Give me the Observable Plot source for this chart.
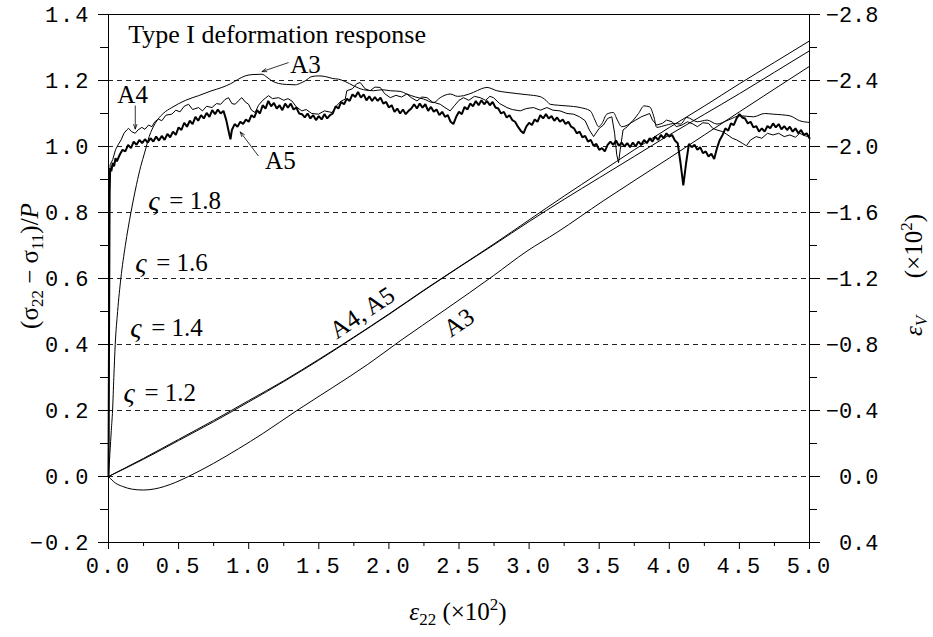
<!DOCTYPE html>
<html><head><meta charset="utf-8">
<script src="https://cdn.jsdelivr.net/npm/d3@7"></script>
<script src="https://cdn.jsdelivr.net/npm/@observablehq/plot@0.6"></script>
<style>
body{margin:0;background:#fff;}
#chart svg{display:block;}
#chart svg g[aria-label$="tick label"] text{letter-spacing:2px;}
</style></head><body><div id="chart"></div>
<script>
// ---- axis ticks ----
const xTicks = [0, 0.5, 1, 1.5, 2, 2.5, 3, 3.5, 4, 4.5, 5];
const xMinorTicks = [0.25, 0.75, 1.25, 1.75, 2.25, 2.75, 3.25, 3.75, 4.25, 4.75];
const leftTicks = [-0.2, 0, 0.2, 0.4, 0.6, 0.8, 1.0, 1.2, 1.4];
const leftMinorTicks = [-0.1, 0.1, 0.3, 0.5, 0.7, 0.9, 1.1, 1.3];
const rightTicks = [0.4, 0, -0.4, -0.8, -1.2, -1.6, -2.0, -2.4, -2.8];   // εV (×10²)
const rightTickLabels = ["0.4", "0.0", "\u22120.4", "\u22120.8", "\u22121.2", "\u22121.6", "\u22122.0", "\u22122.4", "\u22122.8"];
const rightMinorTicks = [0.2, -0.2, -0.6, -1.0, -1.4, -1.8, -2.2, -2.6];
const gridLevels = [0, 0.2, 0.4, 0.6, 0.8, 1.0, 1.2];

// ---- stress ratio (σ22−σ11)/P vs ε22 ----
const stressA3 = [[0,0],[0.01,0.07],[0.02,0.14],[0.029,0.2],[0.038,0.3],[0.048,0.4],[0.065,0.5],[0.088,0.6],[0.12,0.7],[0.16,0.8],[0.2,0.885],[0.23,0.94],[0.257,0.98],[0.29,1.03],[0.333,1.07],[0.39,1.1],[0.452,1.118],[0.55,1.14],[0.642,1.154],[0.73,1.168],[0.809,1.179],[0.87,1.19],[0.927,1.204],[0.975,1.214],[1.03,1.218],[1.094,1.219],[1.13,1.21],[1.165,1.199],[1.213,1.191],[1.27,1.188],[1.332,1.187],[1.37,1.192],[1.403,1.199],[1.451,1.212],[1.5,1.214],[1.546,1.212],[1.6,1.206],[1.64,1.204],[1.688,1.197],[1.748,1.184],[1.82,1.172],[1.89,1.169],[1.95,1.172],[2.01,1.169],[2.08,1.167],[2.128,1.159],[2.19,1.15],[2.247,1.144],[2.318,1.133],[2.366,1.148],[2.437,1.159],[2.49,1.152],[2.532,1.154],[2.603,1.164],[2.66,1.175],[2.699,1.179],[2.77,1.169],[2.842,1.164],[2.92,1.16],[2.984,1.157],[3.079,1.151],[3.12,1.14],[3.15,1.128],[3.21,1.125],[3.27,1.123],[3.365,1.118],[3.436,1.108],[3.47,1.08],[3.495,1.06],[3.52,1.07],[3.554,1.098],[3.6,1.103],[3.63,1.08],[3.66,1.06],[3.72,1.07],[3.78,1.1],[3.82,1.123],[3.86,1.12],[3.89,1.09],[3.91,1.058],[3.98,1.065],[4.04,1.07],[4.08,1.068],[4.126,1.088],[4.2,1.075],[4.27,1.08],[4.34,1.068],[4.42,1.08],[4.505,1.093],[4.6,1.09],[4.68,1.1],[4.74,1.098],[4.86,1.093],[4.93,1.078],[5.0,1.073]];

const stressA4 = [[0,0],[0.004,0.5],[0.008,0.88],[0.012,0.945],[0.03,0.96],[0.05,0.99],[0.071,1.007],[0.09,1.02],[0.11,1.04],[0.13,1.05],[0.143,1.055],[0.165,1.045],[0.19,1.04],[0.21,1.05],[0.238,1.058],[0.26,1.052],[0.285,1.065],[0.31,1.06],[0.33,1.075],[0.357,1.083],[0.38,1.078],[0.41,1.095],[0.452,1.098],[0.48,1.11],[0.51,1.105],[0.54,1.122],[0.571,1.128],[0.6,1.112],[0.642,1.118],[0.67,1.108],[0.7,1.122],[0.738,1.118],[0.77,1.13],[0.8,1.128],[0.83,1.142],[0.856,1.148],[0.88,1.13],[0.904,1.128],[0.93,1.14],[0.951,1.148],[0.975,1.135],[0.999,1.128],[1.02,1.11],[1.046,1.103],[1.07,1.125],[1.1,1.14],[1.141,1.154],[1.17,1.145],[1.213,1.148],[1.25,1.14],[1.28,1.145],[1.308,1.138],[1.34,1.12],[1.379,1.108],[1.41,1.112],[1.45,1.1],[1.498,1.098],[1.54,1.108],[1.594,1.103],[1.63,1.125],[1.66,1.138],[1.688,1.143],[1.7,1.169],[1.74,1.175],[1.77,1.19],[1.795,1.194],[1.83,1.175],[1.866,1.169],[1.9,1.18],[1.938,1.179],[1.97,1.16],[2.01,1.148],[2.05,1.155],[2.09,1.15],[2.128,1.159],[2.16,1.148],[2.2,1.138],[2.235,1.15],[2.271,1.148],[2.31,1.135],[2.366,1.128],[2.4,1.118],[2.437,1.108],[2.47,1.125],[2.5,1.14],[2.532,1.148],[2.57,1.14],[2.61,1.152],[2.651,1.148],[2.69,1.14],[2.72,1.152],[2.746,1.148],[2.79,1.13],[2.842,1.118],[2.88,1.112],[2.937,1.108],[2.98,1.115],[3.031,1.118],[3.08,1.11],[3.127,1.118],[3.17,1.11],[3.22,1.108],[3.27,1.1],[3.317,1.098],[3.36,1.09],[3.4,1.078],[3.43,1.05],[3.46,1.03],[3.5,1.055],[3.53,1.065],[3.56,1.085],[3.59,1.09],[3.61,1.04],[3.625,0.975],[3.638,0.951],[3.65,0.99],[3.67,1.05],[3.7,1.06],[3.72,1.07],[3.76,1.08],[3.8,1.09],[3.86,1.1],[3.88,1.08],[3.91,1.065],[3.95,1.07],[3.98,1.08],[4.02,1.075],[4.05,1.06],[4.09,1.065],[4.13,1.075],[4.17,1.068],[4.2,1.06],[4.24,1.072],[4.28,1.07],[4.31,1.055],[4.34,1.05],[4.38,1.045],[4.41,1.037],[4.45,1.025],[4.48,1.02],[4.52,1.01],[4.55,1.002],[4.58,1.02],[4.62,1.03],[4.66,1.025],[4.7,1.04],[4.74,1.035],[4.78,1.04],[4.82,1.03],[4.86,1.035],[4.9,1.028],[4.93,1.04],[4.97,1.032],[5.0,1.03]];

const stressA5 = [[0,0],[0.004,0.45],[0.008,0.86],[0.012,0.935],[0.02,0.925],[0.03,0.95],[0.04,0.94],[0.05,0.965],[0.06,0.955],[0.08,0.975],[0.1,0.99],[0.12,0.985],[0.14,1.005],[0.16,0.995],[0.18,1.015],[0.2,1.005],[0.22,1.02],[0.24,1.01],[0.26,1.022],[0.28,1.012],[0.3,1.025],[0.32,1.015],[0.34,1.03],[0.36,1.018],[0.38,1.032],[0.4,1.02],[0.42,1.038],[0.44,1.028],[0.46,1.045],[0.48,1.035],[0.5,1.058],[0.52,1.05],[0.54,1.072],[0.56,1.06],[0.58,1.078],[0.6,1.068],[0.62,1.09],[0.64,1.078],[0.66,1.095],[0.68,1.085],[0.7,1.102],[0.72,1.09],[0.74,1.11],[0.76,1.098],[0.78,1.112],[0.8,1.1],[0.82,1.108],[0.84,1.08],[0.86,1.04],[0.87,1.022],[0.88,1.05],[0.9,1.068],[0.92,1.06],[0.94,1.075],[0.96,1.068],[0.98,1.082],[1.0,1.075],[1.02,1.095],[1.04,1.088],[1.06,1.11],[1.08,1.1],[1.1,1.125],[1.12,1.115],[1.14,1.138],[1.16,1.122],[1.18,1.132],[1.2,1.115],[1.22,1.125],[1.24,1.11],[1.26,1.13],[1.28,1.118],[1.3,1.13],[1.32,1.112],[1.34,1.118],[1.36,1.1],[1.38,1.098],[1.4,1.088],[1.42,1.1],[1.44,1.085],[1.46,1.095],[1.48,1.08],[1.5,1.092],[1.52,1.082],[1.54,1.098],[1.56,1.085],[1.58,1.095],[1.6,1.1],[1.62,1.122],[1.64,1.115],[1.66,1.135],[1.68,1.128],[1.7,1.145],[1.72,1.138],[1.74,1.158],[1.76,1.15],[1.78,1.165],[1.8,1.148],[1.82,1.158],[1.84,1.14],[1.86,1.152],[1.88,1.138],[1.9,1.15],[1.92,1.138],[1.94,1.148],[1.96,1.13],[1.98,1.135],[2.0,1.118],[2.02,1.125],[2.04,1.105],[2.06,1.115],[2.08,1.1],[2.1,1.112],[2.12,1.098],[2.14,1.108],[2.16,1.115],[2.18,1.128],[2.2,1.115],[2.22,1.13],[2.24,1.118],[2.26,1.128],[2.28,1.108],[2.3,1.12],[2.32,1.105],[2.34,1.112],[2.36,1.095],[2.38,1.105],[2.4,1.09],[2.42,1.095],[2.44,1.075],[2.46,1.068],[2.48,1.09],[2.5,1.105],[2.52,1.098],[2.54,1.12],[2.56,1.112],[2.58,1.13],[2.6,1.122],[2.62,1.138],[2.64,1.125],[2.66,1.14],[2.68,1.128],[2.7,1.138],[2.72,1.125],[2.74,1.135],[2.76,1.118],[2.78,1.115],[2.8,1.1],[2.82,1.105],[2.84,1.088],[2.86,1.095],[2.88,1.08],[2.9,1.075],[2.92,1.06],[2.94,1.048],[2.96,1.04],[2.98,1.06],[3.0,1.072],[3.02,1.065],[3.04,1.082],[3.06,1.075],[3.08,1.095],[3.1,1.085],[3.12,1.098],[3.14,1.085],[3.16,1.092],[3.18,1.078],[3.2,1.088],[3.22,1.075],[3.24,1.082],[3.26,1.068],[3.28,1.075],[3.3,1.06],[3.32,1.055],[3.34,1.04],[3.36,1.045],[3.38,1.028],[3.4,1.032],[3.42,1.015],[3.44,1.02],[3.46,1.002],[3.48,1.008],[3.5,0.99],[3.52,0.995],[3.54,0.985],[3.56,1.005],[3.58,1.015],[3.6,1.005],[3.62,1.018],[3.64,1.002],[3.66,1.012],[3.68,1.0],[3.7,1.01],[3.72,0.998],[3.74,1.012],[3.76,1.0],[3.78,1.015],[3.8,1.005],[3.82,1.02],[3.84,1.01],[3.86,1.025],[3.88,1.015],[3.9,1.03],[3.92,1.02],[3.94,1.035],[3.96,1.025],[3.98,1.04],[4.0,1.03],[4.02,1.035],[4.04,1.018],[4.06,1.01],[4.08,0.95],[4.1,0.882],[4.12,0.95],[4.14,1.008],[4.16,0.998],[4.18,1.005],[4.2,0.99],[4.22,0.998],[4.24,0.98],[4.26,0.985],[4.28,0.97],[4.3,0.978],[4.32,0.962],[4.34,0.995],[4.36,1.02],[4.38,1.035],[4.4,1.055],[4.42,1.048],[4.44,1.07],[4.46,1.065],[4.48,1.085],[4.5,1.098],[4.52,1.088],[4.54,1.085],[4.56,1.07],[4.58,1.075],[4.6,1.058],[4.62,1.062],[4.64,1.045],[4.66,1.055],[4.68,1.045],[4.7,1.062],[4.72,1.055],[4.74,1.07],[4.76,1.058],[4.78,1.068],[4.8,1.052],[4.82,1.062],[4.84,1.05],[4.86,1.06],[4.88,1.045],[4.9,1.055],[4.92,1.04],[4.94,1.05],[4.96,1.035],[4.98,1.04],[5.0,1.025]];

// ---- volumetric strain εV (×10²) vs ε22, right axis ----
const volA3 = [[0,0],[0.05,0.04],[0.1,0.06],[0.17,0.077],[0.248,0.082],[0.33,0.075],[0.4,0.06],[0.48,0.035],[0.57,0],[0.75,-0.08],[0.927,-0.168],[1.1,-0.26],[1.344,-0.4],[1.6,-0.54],[1.85,-0.68],[2.08,-0.822],[2.4,-1.01],[2.744,-1.216],[2.985,-1.366],[3.2,-1.48],[3.528,-1.67],[4.0,-1.93],[4.5,-2.21],[5.0,-2.486]];
const volA4 = [[0,0],[0.25,-0.11],[0.5,-0.225],[0.75,-0.34],[1.0,-0.46],[1.25,-0.58],[1.5,-0.71],[1.75,-0.845],[2.0,-0.985],[2.25,-1.13],[2.5,-1.27],[2.75,-1.41],[3.0,-1.555],[3.25,-1.7],[3.5,-1.84],[3.75,-1.98],[4.0,-2.115],[4.25,-2.245],[4.5,-2.38],[4.75,-2.51],[5.0,-2.64]];
const volA5 = [[0,0],[0.25,-0.105],[0.5,-0.218],[0.75,-0.332],[1.0,-0.452],[1.25,-0.575],[1.5,-0.705],[1.75,-0.842],[2.0,-0.982],[2.25,-1.127],[2.5,-1.268],[2.75,-1.405],[3.0,-1.545],[3.25,-1.68],[3.5,-1.81],[3.75,-1.94],[4.0,-2.07],[4.25,-2.195],[4.5,-2.32],[4.75,-2.45],[5.0,-2.58]];

// ---- annotations ----
const titleText = ["Type I deformation response"];
const titleX = [0.14], titleY = [1.339];
const sigmaValues = ["= 1.8", "= 1.6", "= 1.4", "= 1.2"];
const sigmaX = [0.284, 0.19, 0.155, 0.107];
const sigmaY = [0.835, 0.648, 0.451, 0.254];
const curveLabels = ["A3", "A4", "A5"];
const curveLabelX = [1.296, 0.063, 1.117];
const curveLabelY = [1.248, 1.157, 0.957];
const arrowX1 = [1.282, 0.191, 1.068], arrowY1 = [1.254, 1.123, 0.972];
const arrowX2 = [1.095, 0.191, 0.94],  arrowY2 = [1.227, 1.053, 1.044];
const volLabels = ["A4, A5", "A3"];
const volLabelX = [1.81, 2.50], volLabelY = [0.496, 0.466];

const toLeft = v => -v / 2;             // εV → left-axis units
const fmt = d3.format(".1f");
const serif = "Liberation Serif";
const idx = a => a.map((_, i) => i);

const plot = Plot.plot({
  width: 933, height: 637,
  marginLeft: 108, marginRight: 124, marginTop: 14, marginBottom: 95,
  style: {fontFamily: "Liberation Mono", fontSize: "22px", background: "#fff", color: "#000", overflow: "visible"},
  x: {domain: [0, 5]},
  y: {domain: [-0.2, 1.4]},
  marks: [
    Plot.ruleY(gridLevels, {stroke: "#222", strokeWidth: 1, strokeDasharray: "5,4"}),
    Plot.line(volA3, {x: d => d[0], y: d => toLeft(d[1]), stroke: "#000", strokeWidth: 1, curve: "monotone-x"}),
    Plot.line(volA4, {x: d => d[0], y: d => toLeft(d[1]), stroke: "#000", strokeWidth: 1, curve: "monotone-x"}),
    Plot.line(volA5, {x: d => d[0], y: d => toLeft(d[1]), stroke: "#000", strokeWidth: 1, curve: "monotone-x"}),
    Plot.line(stressA3, {x: d => d[0], y: d => d[1], stroke: "#000", strokeWidth: 1, curve: "monotone-x"}),
    Plot.line(stressA5, {x: d => d[0], y: d => d[1], stroke: "#000", strokeWidth: 2, strokeLinejoin: "miter"}),
    Plot.line(stressA4, {x: d => d[0], y: d => d[1], stroke: "#000", strokeWidth: 1}),
    Plot.frame({stroke: "#000", strokeWidth: 1}),
    // axes
    Plot.axisX(xTicks, {anchor: "bottom", tickSize: 7, tickPadding: 8, tickFormat: fmt, label: null, fontSize: 22}),
    Plot.axisX(xMinorTicks, {anchor: "bottom", tickSize: 4, tickFormat: () => "", label: null}),
    Plot.axisY(leftTicks, {anchor: "left", tickSize: 10, tickPadding: 8, tickFormat: fmt, label: null, fontSize: 22}),
    Plot.axisY(leftMinorTicks, {anchor: "left", tickSize: 8, tickFormat: () => "", label: null}),
    Plot.axisY(rightTicks.map(toLeft), {anchor: "right", tickSize: 10, tickFormat: () => "", label: null}),
    Plot.text(idx(rightTicks), {x: 5, y: i => toLeft(rightTicks[i]), text: i => rightTickLabels[i], textAnchor: "end", lineAnchor: "middle", dx: 69, fontFamily: "Liberation Mono", fontSize: 22}),
    Plot.axisY(rightMinorTicks.map(toLeft), {anchor: "right", tickSize: 7, tickFormat: () => "", label: null}),
    // annotations
    Plot.text(idx(titleText), {x: i => titleX[i], y: i => titleY[i], text: i => titleText[i], textAnchor: "start", lineAnchor: "middle", fontFamily: serif, fontSize: 26}),
    Plot.text(idx(sigmaValues), {x: i => sigmaX[i], y: i => sigmaY[i], text: () => "ς", textAnchor: "start", lineAnchor: "middle", fontFamily: serif, fontStyle: "italic", fontSize: 28}),
    Plot.text(idx(sigmaValues), {x: i => sigmaX[i], y: i => sigmaY[i], text: i => sigmaValues[i], textAnchor: "start", lineAnchor: "middle", dx: 21, fontFamily: serif, fontSize: 25}),
    Plot.text(idx(curveLabels), {x: i => curveLabelX[i], y: i => curveLabelY[i], text: i => curveLabels[i], textAnchor: "start", lineAnchor: "middle", fontFamily: serif, fontSize: 25}),
    Plot.arrow(idx(arrowX1), {x1: i => arrowX1[i], y1: i => arrowY1[i], x2: i => arrowX2[i], y2: i => arrowY2[i], stroke: "#000", strokeWidth: 0.8, headLength: 9, headAngle: 40}),
    Plot.text(idx(volLabels), {x: i => volLabelX[i], y: i => volLabelY[i], text: i => volLabels[i], textAnchor: "middle", lineAnchor: "middle", rotate: -34, fontFamily: serif, fontSize: 25})
  ]
});

// axis titles with sub/superscripts
function addLabel(svg, x, y, rot, parts, size) {
  const t = d3.select(svg).append("text")
    .attr("transform", `translate(${x},${y}) rotate(${rot})`)
    .attr("text-anchor", "middle")
    .attr("font-family", serif)
    .attr("font-size", size)
    .attr("fill", "#000");
  let cur = 0;
  for (const p of parts) {
    const s = p.shift || 0;
    const ts = t.append("tspan").text(p.t);
    if (s !== cur) ts.attr("dy", s - cur);
    cur = s;
    if (p.it) ts.attr("font-style", "italic");
    if (p.small) ts.attr("font-size", size * 0.68);
  }
}
addLabel(plot, 38, 266, -90, [
  {t: "(σ"}, {t: "22", shift: 5, small: true}, {t: " − σ"}, {t: "11", shift: 5, small: true}, {t: ")/"}, {t: "P", it: true}
], 25);
addLabel(plot, 458, 620, 0, [
  {t: "ε", it: true}, {t: "22", shift: 5, small: true}, {t: " (×10"}, {t: "2", shift: -10, small: true}, {t: ")"}
], 25);
addLabel(plot, 922, 275, -90, [
  {t: "ε", it: true}, {t: "V", shift: 5, small: true, it: true}, {t: "\u2003\u2002(×10"}, {t: "2", shift: -10, small: true}, {t: ")"}
], 25);

document.getElementById("chart").appendChild(plot);
</script>
</body></html>
